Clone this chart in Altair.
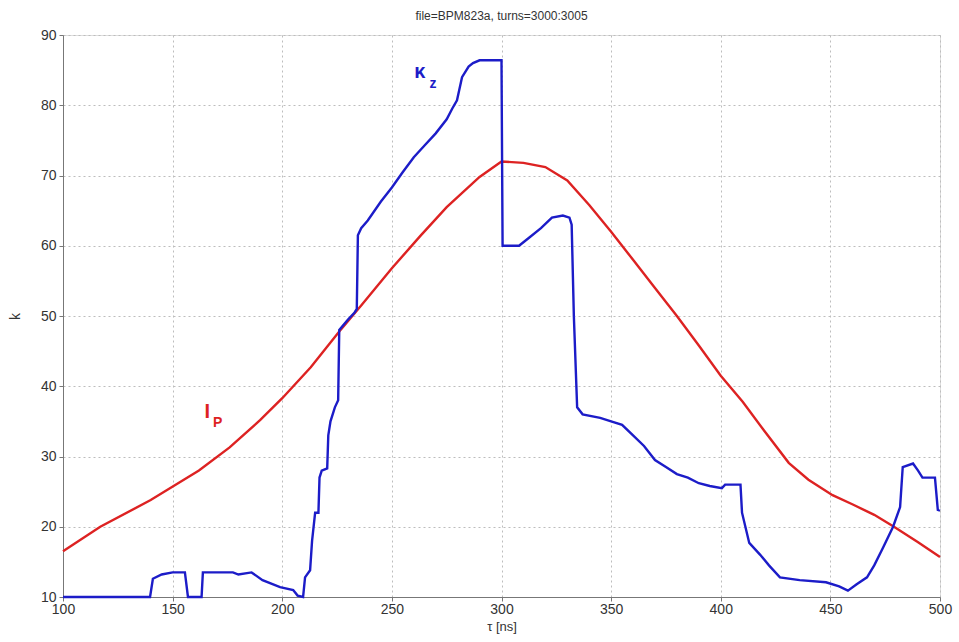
import altair as alt
import pandas as pd

# I_p (red, smooth)
ip_t = [100, 117, 140, 162, 176, 190, 200, 213, 226, 236, 250, 263, 275, 290, 300,
        310, 320, 330, 340, 350, 360, 370, 380, 390, 400, 410, 420, 431, 440, 451,
        460, 470, 479, 490, 500]
ip_v = [16.5, 20.0, 23.8, 28.0, 31.3, 35.2, 38.3, 42.7, 47.8, 51.5, 56.8, 61.4, 65.5, 69.8, 72.0,
        71.8, 71.2, 69.3, 65.8, 62.0, 58.0, 54.0, 50.0, 45.8, 41.5, 37.8, 33.6, 29.1, 26.7, 24.5,
        23.2, 21.7, 20.0, 17.8, 15.7]

# kappa_z (blue, step-like)
kz_t = [100, 139.7, 141, 145, 150, 155.6, 157, 163.2, 163.8, 170, 177.5, 180, 186, 191, 199,
        205, 207, 209.5, 210.4, 212.7, 213.6, 215, 216.5, 217, 218, 220.5, 221, 222, 224, 225.5,
        226, 230, 233, 234, 234.5, 236, 239, 245, 250, 255, 260, 265, 270, 275, 277.5,
        279.7, 282, 285, 287, 290, 300, 300.5, 308, 312, 318, 323, 328, 331, 332, 333,
        334.5, 337, 345, 350, 355, 360, 365, 370, 375, 380, 385, 390, 395, 400.5, 402,
        409, 409.7, 413, 418, 422, 427, 436, 448, 454, 458, 462, 466.7, 470, 474, 478.6,
        481.8, 483, 487.7, 490, 492, 497.7, 499, 500]
kz_v = [10, 10, 12.6, 13.2, 13.5, 13.5, 10, 10, 13.5, 13.5, 13.5, 13.2, 13.5, 12.4, 11.4,
        11.0, 10.2, 10, 12.8, 13.8, 18, 22, 22, 27, 28, 28.3, 33, 35, 37, 38,
        48, 49.5, 50.5, 51, 61.5, 62.5, 63.6, 66.3, 68.3, 70.5, 72.6, 74.3, 76, 78, 79.5,
        80.7, 84, 85.5, 86, 86.4, 86.4, 60, 60, 61, 62.5, 64, 64.3, 64, 63, 50,
        37, 36, 35.5, 35, 34.5, 33, 31.5, 29.5, 28.5, 27.5, 27, 26.2, 25.8, 25.5, 26,
        26, 22, 17.7, 16, 14.5, 12.8, 12.4, 12.1, 11.5, 10.9, 11.8, 12.8, 14.5, 17, 20,
        22.8, 28.5, 29, 28, 27, 27, 22.4, 22.3]

x_ticks = [100, 150, 200, 250, 300, 350, 400, 450, 500]
y_ticks = [10, 20, 30, 40, 50, 60, 70, 80, 90]

# annotation labels (data units)
lab_main = ["κ", "I"]
lab_sub = ["z", "P"]
lab_x = [262.8, 165.8]
lab_y = [84.7, 36.3]
lab_sx = [268.8, 170.5]
lab_sy = [83.0, 34.8]
lab_col = ["#1c1cc8", "#dd2222"]

ip_df = pd.DataFrame({"t": ip_t, "v": ip_v, "i": range(len(ip_t))})
kz_df = pd.DataFrame({"t": kz_t, "v": kz_v, "i": range(len(kz_t))})
lab_df = pd.DataFrame({"m": lab_main, "s": lab_sub, "x": lab_x, "y": lab_y,
                       "sx": lab_sx, "sy": lab_sy, "c": lab_col})

xs = alt.Scale(domain=[100, 500], nice=False, zero=False)
ys = alt.Scale(domain=[10, 90], nice=False, zero=False)

xax = alt.Axis(values=x_ticks, title="τ [ns]", grid=True, gridDash=[2, 3],
               gridColor="#bdbdbd", labelFontSize=14, titleFontSize=13,
               titleFontWeight="normal",
               labelColor="#333333", titleColor="#333333", tickColor="#777777",
               domainColor="#777777", tickSize=4, labelPadding=1, titlePadding=4,
               labelFlush=False, format="d")
yax = alt.Axis(values=y_ticks, title="k", grid=True, gridDash=[2, 3],
               gridColor="#bdbdbd", labelFontSize=14, titleFontSize=14,
               titleFontWeight="normal",
               labelColor="#333333", titleColor="#333333", tickColor="#777777",
               domainColor="#777777", tickSize=4, labelPadding=3, titlePadding=18,
               labelFlush=False, format="d")

red = alt.Chart(ip_df).mark_line(color="#dd2222", strokeWidth=2.4).encode(
    x=alt.X("t:Q", scale=xs, axis=xax),
    y=alt.Y("v:Q", scale=ys, axis=yax),
    order="i:Q",
)
blue = alt.Chart(kz_df).mark_line(color="#1c1cc8", strokeWidth=2.4).encode(
    x=alt.X("t:Q", scale=xs),
    y=alt.Y("v:Q", scale=ys),
    order="i:Q",
)
main_txt = alt.Chart(lab_df).mark_text(fontSize=20, fontWeight="bold",
                                       font="Liberation Sans").encode(
    x=alt.X("x:Q", scale=xs), y=alt.Y("y:Q", scale=ys),
    text="m:N", color=alt.Color("c:N", scale=None),
)
sub_txt = alt.Chart(lab_df).mark_text(fontSize=14, fontWeight="bold",
                                      font="Liberation Sans").encode(
    x=alt.X("sx:Q", scale=xs), y=alt.Y("sy:Q", scale=ys),
    text="s:N", color=alt.Color("c:N", scale=None),
)

chart = alt.layer(red, blue, main_txt, sub_txt).properties(
    width=877, height=562,
    title=alt.Title("file=BPM823a, turns=3000:3005", fontSize=12, fontWeight="normal",
                    color="#333333", offset=5, font="Liberation Sans"),
    autosize=alt.AutoSizeParams(type="none"),
    padding={"left": 63, "top": 35, "right": 19, "bottom": 45},
).configure_view(stroke="#777777", strokeWidth=1).configure_axis(
    labelFont="Liberation Sans", titleFont="Liberation Sans"
).configure(background="white")

chart.save("out.html", embed_options={"renderer": "svg", "actions": False})
